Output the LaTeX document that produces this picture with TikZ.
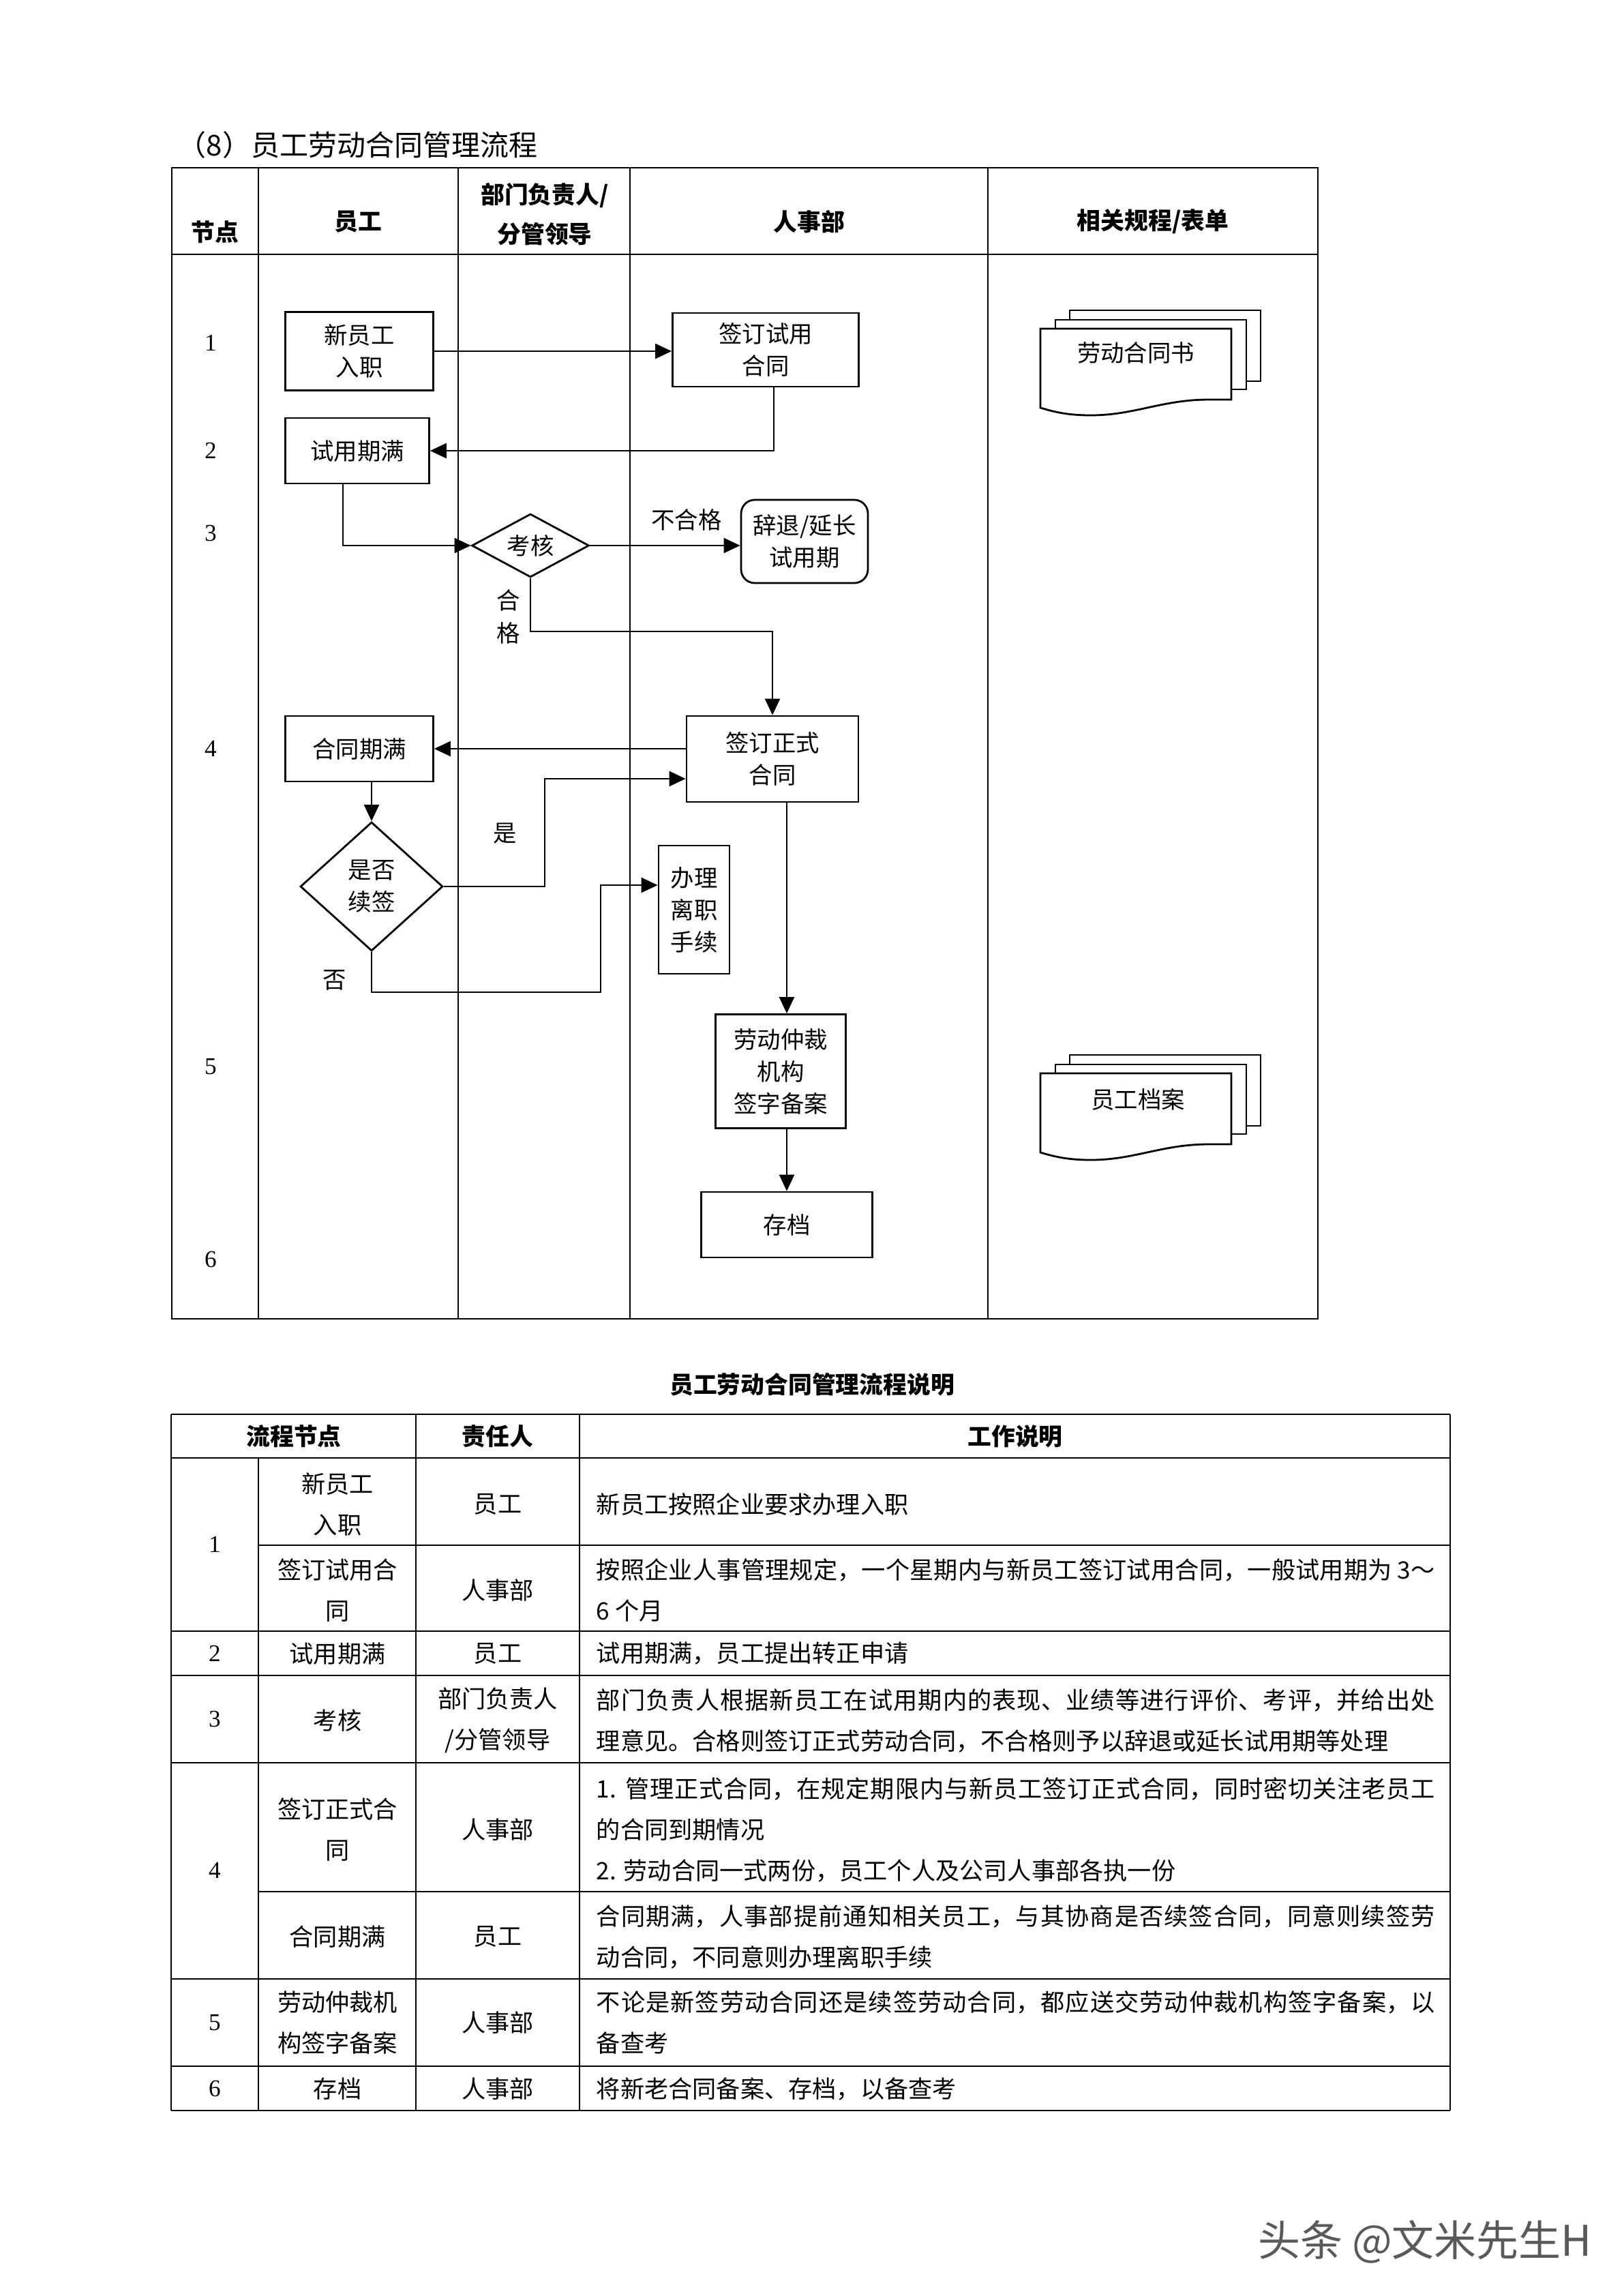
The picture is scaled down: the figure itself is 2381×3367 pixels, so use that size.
\documentclass[tikz,border=0pt]{standalone}
\usepackage{fontspec}
\setmainfont{Noto Sans CJK SC}
\newfontfamily\numfont{Liberation Serif}
\XeTeXlinebreaklocale "zh"
\XeTeXlinebreakskip=0pt plus 1pt
\usetikzlibrary{arrows.meta,shapes.geometric}

\begin{document}
\begin{tikzpicture}[x=0.25pt,y=-0.25pt,font=\fontsize{8.6pt}{11.75pt}\selectfont]
\useasboundingbox (0,0) rectangle (2381,3367);

\tikzset{
% Styles for the flow chart: plain boxes, end box, decisions, arrows
flow box/.style={draw,line width=0.7pt,inner sep=0pt,align=center,fill=white},
end box/.style={flow box,rounded corners=5pt},
check/.style={draw,diamond,line width=0.7pt,inner sep=0pt,align=center},
link/.style={line width=0.6pt,-{Triangle[length=6pt,width=5.5pt]}},
doc page/.style={draw,line width=0.7pt,fill=white},
% Styles for the tables
rule/.style={line width=0.6pt},
thin rule/.style={line width=0.3pt},
head/.style={font=\fontsize{8.7pt}{14.5pt}\selectfont\bfseries,align=center},
num/.style={font=\numfont\fontsize{8.8pt}{10pt}\selectfont},
cell/.style={align=center,font=\fontsize{8.8pt}{15pt}\selectfont},
note/.style={anchor=west,text width=307.5pt,align=justify,inner xsep=0pt,
  font=\fontsize{8.8pt}{15pt}\selectfont},
% A stack of three documents
docs/.pic={
\draw[doc page] (43,-27) rectangle (323,77);
\draw[doc page] (22,-13) rectangle (302,89);
\draw[doc page] (0,0) -- (280,0) -- (280,104) -- (247,104)
  .. controls (178,104) and (138,127) .. (74,127)
  .. controls (40,127) and (20,122) .. (0,116) -- cycle;
}
}

% Title
\node[anchor=west,inner sep=0pt,font=\fontsize{10.5pt}{12pt}\selectfont] (title) at (260,213) {（8）员工劳动合同管理流程};

% The lanes
\draw[rule] (252,246) rectangle (1933,1934);
\draw[rule] (252,373) -- (1933,373);
\foreach \x in {379,672,924,1449}
  \draw[thin rule] (\x,246) -- (\x,1934);

\node[head] (hnode) at (315,340) {节点};
\node[head] (hstaff) at (525,325) {员工};
\node[head] (hlead) at (799,314) {部门负责人/\\分管领导};
\node[head] (hhr) at (1187,325) {人事部};
\node[head] (hform) at (1691,325) {相关规程/表单};

\foreach \n/\y in {1/503,2/661,3/782,4/1098,5/1564,6/1847}
  \node[num] (row\n) at (309,\y) {\n};

% The steps
\node[flow box,minimum width=54.25pt,minimum height=28.75pt] (join) at (527,515) {新员工\\入职};
\node[flow box,minimum width=68.25pt,minimum height=27pt] (trial) at (1123,513) {签订试用\\合同};
\node[flow box,minimum width=52.75pt,minimum height=24pt] (due) at (524,661) {试用期满};
\node[check,aspect=2,minimum width=43pt,minimum height=23.25pt] (assess) at (778,800) {考核};
\node[end box,minimum width=46.5pt,minimum height=30.5pt] (dismiss) at (1180,794) {辞退/延长\\试用期};
\node[flow box,minimum width=63pt,minimum height=31.5pt] (formal) at (1133,1113) {签订正式\\合同};
\node[flow box,minimum width=54.25pt,minimum height=24pt] (expire) at (527,1098) {合同期满};
\node[check,aspect=1.1,minimum width=52.25pt,minimum height=47.25pt] (renew) at (545,1300) {是否\\续签};
\node[flow box,minimum width=26pt,minimum height=47pt] (leave) at (1018,1334) {办理\\离职\\手续};
\node[flow box,minimum width=47.6pt,minimum height=41.75pt] (filing) at (1145,1571) {劳动仲裁\\机构\\签字备案};
\node[flow box,minimum width=62.7pt,minimum height=24pt] (archive) at (1154,1796) {存档};

% Documents
\pic at (1526,482) {docs};
\node (form1) at (1666,517) {劳动合同书};
\pic at (1526,1574) {docs};
\node (form2) at (1669,1612) {员工档案};

% Connectors
\draw[link] (join.east) -- (join.east -| trial.west);
\draw[link] ([xshift=3pt]trial.south) |- (due.east);
\draw[link] ([xshift=-5.25pt]due.south) |- (assess.west);
\draw[link] (assess.east) -- (assess.east -| dismiss.west);
\draw[link] (assess.south) -- ++(0,78) -| (formal.north);
\draw[link] (formal.west |- expire.east) -- (expire.east);
\draw[link] (renew.north |- expire.south) -- (renew.north);
\coordinate (yes) at (799,1142);
\draw[link] (renew.east) -| (yes) -- (yes -| formal.west);
\coordinate (no) at (881,1455);
\coordinate (noin) at (881,1298);
\draw[link] (renew.south) |- (no) -- (noin) -- (noin -| leave.west);
\draw[link] (formal.south -| archive.north) -- (filing.north -| archive.north);
\draw[link] (filing.south -| archive.north) -- (archive.north);

\node (fail) at (1007,762) {不合格};
\node[align=center,font=\fontsize{8.6pt}{12pt}\selectfont] (pass) at (746,904) {合\\格};
\node (yeslabel) at (741,1222) {是};
\node (nolabel) at (491,1437) {否};

% The table below
\node[head] (ttitle) at (1191,2030) {员工劳动合同管理流程说明};
\foreach \y in {2074,2138,2392,2457,2585,2902,3030,3095}
  \draw[rule] (251,\y) -- (2127,\y);
\foreach \y in {2266,2774}
  \draw[rule] (379,\y) -- (2127,\y);
\foreach \x in {251,610,850,2127}
  \draw[rule] (\x,2074) -- (\x,3095);
\draw[rule] (379,2138) -- (379,3095);

\node[head] (tstep) at (431,2106) {流程节点};
\node[head] (towner) at (730,2106) {责任人};
\node[head] (twork) at (1489,2106) {工作说明};

\foreach \n/\y in {1/2265,2/2425,3/2521,4/2743,5/2966,6/3063}
  \node[num] (no\n) at (315,\y) {\n};

\foreach \y/\name/\who/\what [count=\i] in {
2206/{新员工\\入职}/员工/{新员工按照企业要求办理入职},
2332/{签订试用合\\同}/人事部/{按照企业人事管理规定，一个星期内与新员工签订试用合同，一般试用期为 3～\linebreak 6 个月},
2425/试用期满/员工/{试用期满，员工提出转正申请},
2523/考核/{部门负责人\\/分管领导}/{部门负责人根据新员工在试用期内的表现、业绩等进行评价、考评，并给出处\linebreak 理意见。合格则签订正式劳动合同，不合格则予以辞退或延长试用期等处理},
2683/{签订正式合\\同}/人事部/{1. 管理正式合同，在规定期限内与新员工签订正式合同，同时密切关注老员工\linebreak 的合同到期情况\\2. 劳动合同一式两份，员工个人及公司人事部各执一份},
2840/合同期满/员工/{合同期满，人事部提前通知相关员工，与其协商是否续签合同，同意则续签劳\linebreak 动合同，不同意则办理离职手续},
2966/{劳动仲裁机\\构签字备案}/人事部/{不论是新签劳动合同还是续签劳动合同，都应送交劳动仲裁机构签字备案，以\linebreak 备查考},
3063/存档/人事部/{将新老合同备案、存档，以备查考}}{
\node[cell] (step\i) at (495,\y) {\name};
\node[cell] (owner\i) at (730,\y) {\who};
\node[note] (work\i) at (874,\y) {\what};
}

% Mark
\node[font=\fontsize{15.5pt}{18pt}\selectfont,text=black!65] (mark) at (2090,3288) {头条 @文米先生H};

\end{tikzpicture}
\end{document}
